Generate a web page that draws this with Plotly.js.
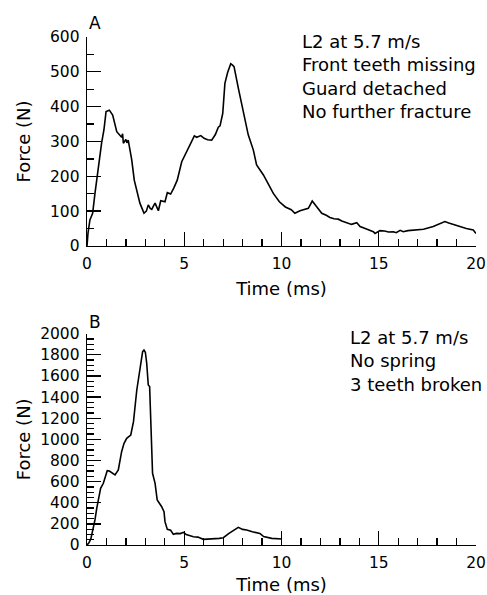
<!DOCTYPE html>
<html>
<head>
<meta charset="utf-8">
<script src="https://cdn.plot.ly/plotly-3.0.1.min.js"></script>
<style>html,body{margin:0;padding:0;background:#fff;}#chart{width:487px;height:595px;}</style>
</head>
<body>
<div id="chart"></div>
<script>
// Panel A: L2 at 5.7 m/s, front teeth missing
var timeA = [0, 0.05, 0.15, 0.29, 0.41, 0.58, 0.75, 0.87, 0.98, 1.15, 1.32, 1.53, 1.7, 1.78, 1.83, 1.87, 2.0, 2.05, 2.12, 2.3, 2.43, 2.58, 2.72, 2.85, 2.93, 3.05, 3.15, 3.25, 3.33, 3.42, 3.5, 3.6, 3.67, 3.79, 3.9, 4.01, 4.13, 4.3, 4.46, 4.64, 4.87, 5.05, 5.21, 5.38, 5.52, 5.64, 5.85, 6.02, 6.2, 6.41, 6.6, 6.75, 6.84, 6.98, 7.09, 7.23, 7.39, 7.47, 7.56, 7.78, 8.04, 8.29, 8.55, 8.72, 9.07, 9.32, 9.58, 9.89, 10.2, 10.5, 10.69, 10.95, 11.2, 11.38, 11.58, 11.8, 12.07, 12.3, 12.49, 12.7, 12.92, 13.1, 13.44, 13.6, 13.87, 14.04, 14.4, 14.72, 14.81, 15.06, 15.3, 15.5, 15.75, 15.9, 16.1, 16.26, 16.5, 16.95, 17.3, 17.8, 18.1, 18.4, 18.6, 18.9, 19.18, 19.5, 19.86, 20];
var forceA = [0, 36, 75, 94, 151, 228, 295, 333, 386, 390, 376, 328, 318, 312, 322, 295, 306, 296, 304, 247, 189, 150, 123, 105, 94, 100, 118, 108, 105, 115, 123, 110, 101, 130, 128, 127, 153, 149, 166, 189, 242, 263, 280, 298, 316, 312, 317, 309, 305, 304, 320, 341, 345, 381, 467, 498, 523, 520, 515, 453, 381, 319, 276, 233, 204, 180, 151, 127, 112, 104, 94, 101, 104, 108, 129, 112, 94, 88, 82, 78, 77, 72, 65, 62, 67, 56, 48, 41, 36, 44, 43, 40, 41, 38, 45, 41, 44, 46, 48, 56, 62, 70, 66, 60, 56, 50, 46, 36];

// Panel B: L2 at 5.7 m/s, no spring
var timeB = [0, 0.1, 0.2, 0.3, 0.41, 0.5, 0.6, 0.7, 0.84, 0.95, 1.04, 1.15, 1.27, 1.44, 1.61, 1.78, 1.9, 2.04, 2.25, 2.39, 2.56, 2.72, 2.86, 2.93, 3.0, 3.07, 3.15, 3.22, 3.27, 3.37, 3.5, 3.61, 3.84, 3.96, 4.01, 4.13, 4.3, 4.44, 4.6, 4.8, 4.95, 5.1, 5.47, 5.7, 5.98, 6.2, 6.49, 6.8, 7.01, 7.3, 7.78, 8.0, 8.21, 8.5, 8.89, 9.08, 9.5, 10.03];
var forceB = [0, 20, 60, 140, 237, 347, 440, 537, 584, 640, 703, 700, 684, 663, 710, 883, 960, 1010, 1041, 1167, 1467, 1656, 1830, 1845, 1824, 1720, 1514, 1500, 1214, 679, 584, 426, 362, 315, 221, 148, 140, 101, 110, 108, 120, 100, 79, 75, 54, 55, 57, 63, 69, 110, 167, 148, 142, 125, 110, 80, 63, 57];

var labelA = "L2 at 5.7 m/s<br>Front teeth missing<br>Guard detached<br>No further fracture";
var labelB = "L2 at 5.7 m/s<br>No spring<br>3 teeth broken";

var FONT = "DejaVu Sans, Liberation Sans, Arial, sans-serif";

var traces = [
  {x: timeA, y: forceA, xaxis: 'x', yaxis: 'y', mode: 'lines', line: {color: '#000', width: 1.6}, hoverinfo: 'skip'},
  {x: timeB, y: forceB, xaxis: 'x2', yaxis: 'y2', mode: 'lines', line: {color: '#000', width: 1.6}, hoverinfo: 'skip'}
];

function xax(anchor, standoff) {
  return {
    anchor: anchor, domain: [0, 1], range: [0, 20], dtick: 5, tick0: 0,
    showline: true, linecolor: '#000', linewidth: 1.3,
    ticks: 'inside', ticklen: 14, tickwidth: 1.3, tickcolor: '#000',
    minor: {ticks: 'inside', ticklen: 7, tickwidth: 1.3, tickcolor: '#000', dtick: 1, showgrid: false},
    showgrid: false, zeroline: false,
    tickfont: {family: FONT, size: 15.5, color: '#000'},
    ticklabelstandoff: 3,
    title: {text: 'Time (ms)', font: {family: FONT, size: 18, color: '#000'}, standoff: standoff}
  };
}
function yax(anchor, domain, range, dtick, mdtick, standoff) {
  return {
    anchor: anchor, domain: domain, range: range, dtick: dtick, tick0: 0,
    showline: true, linecolor: '#000', linewidth: 1.3,
    ticks: 'inside', ticklen: 14, tickwidth: 1.3, tickcolor: '#000',
    minor: {ticks: 'inside', ticklen: 7, tickwidth: 1.3, tickcolor: '#000', dtick: mdtick, showgrid: false},
    showgrid: false, zeroline: false,
    tickfont: {family: FONT, size: 15.5, color: '#000'},
    ticklabelstandoff: 3,
    title: {text: 'Force (N)', font: {family: FONT, size: 18, color: '#000'}, standoff: standoff}
  };
}

var layout = {
  width: 487, height: 595,
  margin: {l: 87, r: 11, t: 0, b: 0},
  paper_bgcolor: '#fff', plot_bgcolor: '#fff',
  showlegend: false,
  xaxis: xax('y', 10),
  yaxis: yax('x', [0.5866, 0.9378], [0, 600], 100, 50, 14),
  xaxis2: xax('y2', 8),
  yaxis2: yax('x2', [0.0840, 0.4392], [0, 2000], 200, 50, 4),
  annotations: [
    {text: 'A', xref: 'paper', yref: 'paper', x: 0, y: 0.961, xanchor: 'left', yanchor: 'middle', showarrow: false, font: {family: FONT, size: 17, color: '#000'}},
    {text: 'B', xref: 'paper', yref: 'paper', x: 0, y: 0.459, xanchor: 'left', yanchor: 'middle', showarrow: false, font: {family: FONT, size: 17, color: '#000'}},
    {text: labelA, xref: 'paper', yref: 'paper', x: 0.5476, y: (595 - 76) / 595, xanchor: 'left', yanchor: 'middle', align: 'left', showarrow: false, font: {family: FONT, size: 18, color: '#000'}},
    {text: labelB, xref: 'paper', yref: 'paper', x: 0.671, y: (595 - 361) / 595, xanchor: 'left', yanchor: 'middle', align: 'left', showarrow: false, font: {family: FONT, size: 18, color: '#000'}}
  ]
};

Plotly.newPlot('chart', traces, layout, {staticPlot: true, displayModeBar: false});
</script>
</body>
</html>
